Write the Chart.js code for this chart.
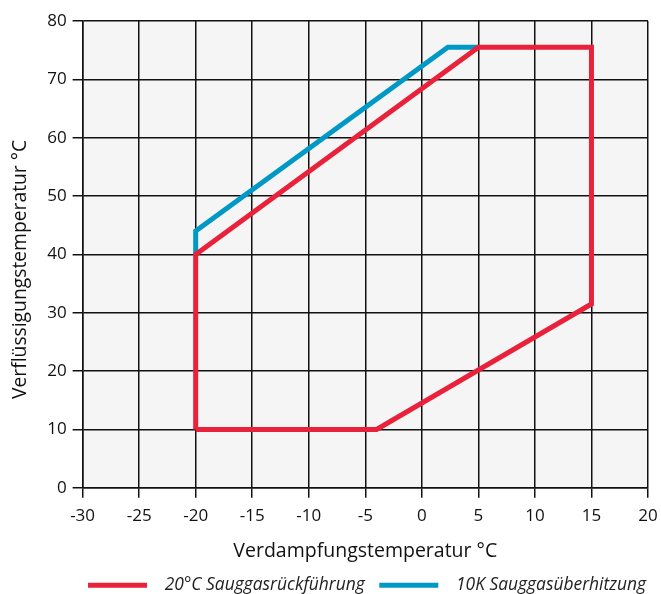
<!DOCTYPE html>
<html><head><meta charset="utf-8">
<script src="https://cdn.jsdelivr.net/npm/chart.js@4/dist/chart.umd.min.js"></script>
<style>html,body{margin:0;padding:0;background:#fff}#wrap{width:661px;height:594px}</style>
</head><body><div id="wrap"><canvas id="c" width="661" height="594"></canvas></div>
<script>
const seriesNames = ['20°C Sauggasrückführung', '10K Sauggasüberhitzung'];
const redX = [-20, -20, 5, 15, 15, -4, -20];
const redY = [10, 40, 75.5, 75.5, 31.5, 10, 10];
const blueX = [-20, -20, 2.3, 5];
const blueY = [40, 44, 75.5, 75.5];
const xTicks = [-30, -25, -20, -15, -10, -5, 0, 5, 10, 15, 20];
const yTicks = [0, 10, 20, 30, 40, 50, 60, 70, 80];
const colors = ['#e9213b', '#0098c5'];

const toPts = (xs, ys) => xs.map((x, i) => ({x, y: ys[i]}));
const bgPlugin = {
  id: 'bg',
  beforeDraw(chart) {
    const {ctx, chartArea: a} = chart;
    ctx.save(); ctx.fillStyle = '#f5f5f5';
    ctx.fillRect(a.left, a.top, a.right - a.left, a.bottom - a.top);
    ctx.restore();
  }
};
const legendShift = {
  id: 'legendShift',
  afterLayout(chart) {
    const l = chart.legend;
    l.left += 32; l.right += 32;
  }
};
const font = "'Open Sans', 'Noto Sans', sans-serif";
new Chart(document.getElementById('c'), {
  type: 'scatter',
  data: {
    datasets: [
      {label: seriesNames[0], data: toPts(redX, redY), showLine: true, borderColor: colors[0], backgroundColor: colors[0], borderWidth: 5, pointRadius: 0, borderJoinStyle: 'miter'},
      {label: seriesNames[1], data: toPts(blueX, blueY), showLine: true, borderColor: colors[1], backgroundColor: colors[1], borderWidth: 5, pointRadius: 0, borderJoinStyle: 'miter'}
    ]
  },
  options: {
    responsive: false, animation: false, devicePixelRatio: 1,
    layout: {padding: {left: 9, right: 0, top: 21, bottom: -10}},
    plugins: {
      tooltip: {enabled: false},
      legend: {
        position: 'bottom',
        labels: {
          boxWidth: 59, boxHeight: 5, padding: 10, color: '#222', font: {family: font, size: 17.4, style: 'italic'},
          generateLabels: chart => chart.data.datasets.map((d, i) => ({
            text: '  ' + d.label + (i === 0 ? ' ' : ''), fillStyle: d.backgroundColor, strokeStyle: d.borderColor,
            lineWidth: 0, hidden: false, datasetIndex: i, fontColor: '#222'
          }))
        }
      }
    },
    scales: {
      x: {
        type: 'linear', min: -30, max: 20,
        afterBuildTicks: s => { s.ticks = xTicks.map(v => ({value: v})); },
        afterFit: s => { s.paddingRight = 13; },
        ticks: {color: '#111', font: {family: font, size: 17}, padding: 8, maxRotation: 0},
        grid: {color: '#111', lineWidth: 1.5, tickLength: 10, tickColor: '#111'},
        border: {color: '#111', width: 1.5},
        title: {display: true, text: 'Verdampfungstemperatur °C', color: '#111', font: {family: font, size: 19.5}, padding: {top: 6, bottom: 3}}
      },
      y: {
        type: 'linear', min: 0, max: 80,
        afterBuildTicks: s => { s.ticks = yTicks.map(v => ({value: v})); },
        ticks: {color: '#111', font: {family: font, size: 17}, padding: 6},
        grid: {color: '#111', lineWidth: 1.5, tickLength: 10, tickColor: '#111'},
        border: {color: '#111', width: 1.5},
        title: {display: true, text: 'Verflüssigungstemperatur °C' + '      ', color: '#111', font: {family: font, size: 19.3}, padding: {top: 0, bottom: 9}}
      }
    }
  },
  plugins: [bgPlugin, legendShift]
});
</script></body></html>
